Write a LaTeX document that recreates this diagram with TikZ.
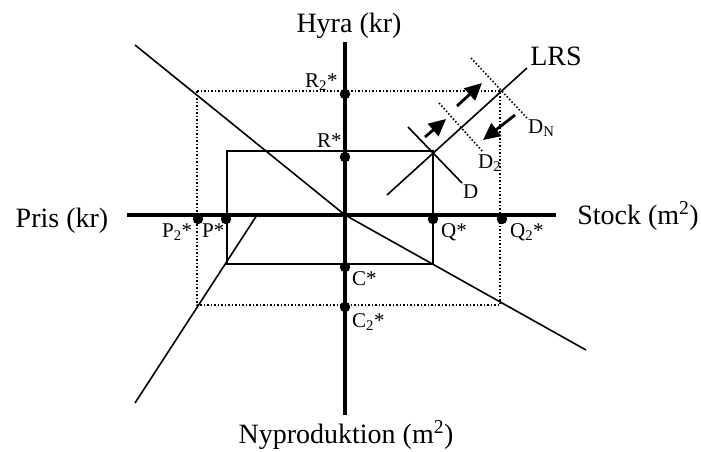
\documentclass[tikz,border=0pt]{standalone}
\usepackage{fontspec}
\setmainfont{Liberation Serif}
\usetikzlibrary{arrows.meta}
\tikzset{
 axisline/.style={line width=4pt},
 curveline/.style={line width=1.6pt},
 dotline/.style={line width=1.6pt, dash pattern=on 1.5pt off 2pt},
 pt/.style={circle, fill=black, inner sep=0pt, minimum size=10.5pt},
 big/.style={font=\fontsize{28}{30}\selectfont, inner sep=0pt},
 small/.style={font=\fontsize{21}{24}\selectfont, inner sep=0pt, anchor=base west},
 shiftarrow/.style={line width=2.8pt, -{Triangle[length=17pt,width=16pt]}},
}
\begin{document}
\begin{tikzpicture}[x=1pt,y=-1pt]
\useasboundingbox (0,0) rectangle (701,451);
% key coordinates
\coordinate (O) at (345,215);
\coordinate (vt) at (345,42);
\coordinate (vb) at (345,415);
\coordinate (hl) at (127,215);
\coordinate (hr) at (556,215);
\coordinate (s1) at (227,151);
\coordinate (s3) at (433,264);
\coordinate (d1) at (197,91);
\coordinate (d3) at (500,305);
\coordinate (ul) at (135,45);
\coordinate (lr) at (586,350);
\coordinate (c0) at (257,215);
\coordinate (c1) at (135,403);
\coordinate (L0) at (387,195);
\coordinate (L1) at (527,68);
\coordinate (D0) at (408,127);
\coordinate (D1) at (462,183);
\coordinate (E0) at (439,103);
\coordinate (E1) at (483,152);
\coordinate (N0) at (471,58);
\coordinate (N1) at (527,118);
\coordinate (a1) at (425,137);
\coordinate (a1t) at (446,119);
\coordinate (a2) at (457,106);
\coordinate (a2t) at (482,83);
\coordinate (a3) at (515,115);
\coordinate (a3t) at (483,140);
% rectangles
\draw[dotline] (d1) rectangle (d3);
\draw[curveline] (s1) rectangle (s3);
% curves
\draw[curveline] (ul) -- (O) -- (lr);
\draw[curveline] (c0) -- (c1);
\draw[curveline] (L0) -- (L1);
\draw[curveline] (D0) -- (D1);
\draw[dotline] (E0) -- (E1);
\draw[dotline] (N0) -- (N1);
% arrows
\draw[shiftarrow] (a1) -- (a1t);
\draw[shiftarrow] (a2) -- (a2t);
\draw[shiftarrow] (a3) -- (a3t);
% axes
\draw[axisline] (vt) -- (vb);
\draw[axisline] (hl) -- (hr);
% points
\node[pt] (R2) at (345,94) {};
\node[pt] (R) at (345,157) {};
\node[pt] (C) at (345,267) {};
\node[pt] (C2) at (345,307) {};
\node[pt] (P2) at (198,219) {};
\node[pt] (P) at (226,219) {};
\node[pt] (Q) at (433,219) {};
\node[pt] (Q2) at (502,219) {};
% axis labels
\node[big, anchor=base] (hyra) at (349,32) {Hyra (kr)};
\node[big, anchor=base] (pris) at (62,227) {Pris (kr)};
\node[big, anchor=base] (stock) at (638,224) {Stock (m\textsuperscript{2})};
\node[big, anchor=base] (nyp) at (346,443) {Nyproduktion (m\textsuperscript{2})};
\node[big, anchor=base] (lrs) at (556,65) {LRS};
% point labels
\node[small] (lR2) at (305,87) {R\textsubscript{2}*};
\node[small] (lR) at (317,147) {R*};
\node[small] (lC) at (352,285) {C*};
\node[small] (lC2) at (352,327) {C\textsubscript{2}*};
\node[small] (lP2) at (162,237) {P\textsubscript{2}*};
\node[small] (lP) at (202,237) {P*};
\node[small] (lQ) at (441,237) {Q*};
\node[small] (lQ2) at (510,237) {Q\textsubscript{2}*};
\node[small] (lD) at (463,198) {D};
\node[small] (lD2) at (478,168) {D\textsubscript{2}};
\node[small] (lDN) at (528,133) {D\textsubscript{N}};
\end{tikzpicture}
\end{document}
